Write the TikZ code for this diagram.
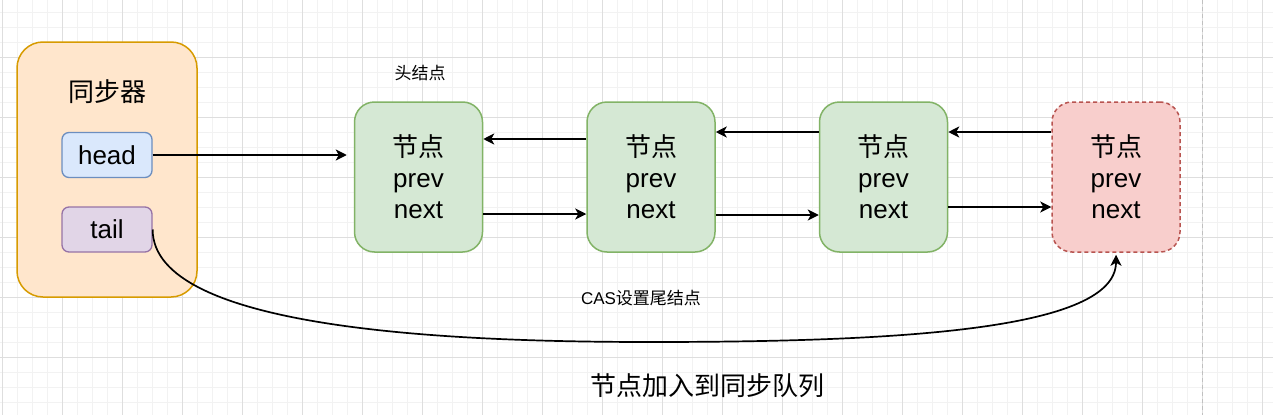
\documentclass[tikz,border=0pt]{standalone}
\usepackage{fontspec}
\setmainfont{Liberation Sans}
\newfontfamily\cjk{Noto Sans CJK SC}
\usetikzlibrary{arrows.meta}
\definecolor{gridminor}{HTML}{F2F2F2}
\definecolor{gridmajor}{HTML}{DEDEDE}
\definecolor{pagebrk}{HTML}{C0C0C0}
\definecolor{syncfill}{HTML}{FFE6CC}
\definecolor{syncdraw}{HTML}{D79B00}
\definecolor{headfill}{HTML}{DAE8FC}
\definecolor{headdraw}{HTML}{6C8EBF}
\definecolor{tailfill}{HTML}{E1D5E7}
\definecolor{taildraw}{HTML}{9673A6}
\definecolor{nodefill}{HTML}{D5E8D4}
\definecolor{nodedraw}{HTML}{82B366}
\definecolor{newfill}{HTML}{F8CECC}
\definecolor{newdraw}{HTML}{B85450}
\tikzset{
  big/.style={font=\fontsize{26}{31}\selectfont},
  small/.style={font=\fontsize{17}{20}\selectfont},
  syncbox/.style={draw=syncdraw, fill=syncfill, line width=1.5pt, rounded corners=26pt,
    minimum width=180pt, minimum height=255pt, inner sep=0pt},
  fieldbox/.style={line width=1.3pt, rounded corners=7pt, minimum width=90pt,
    minimum height=45pt, inner sep=0pt, big},
  qnode/.style={draw=nodedraw, fill=nodefill, line width=1.5pt, rounded corners=20pt,
    minimum width=128pt, minimum height=150pt, inner sep=0pt, align=center, big},
  newnode/.style={qnode, draw=newdraw, fill=newfill, dash pattern=on 4pt off 3pt},
  link/.style={line width=1.7pt, -{Stealth[length=11pt,width=11pt,inset=3pt]}},
}
\begin{document}
\begin{tikzpicture}[x=1pt,y=-1pt]
\useasboundingbox (0,0) rectangle (1273,415);
\fill[white] (0,0) rectangle (1273,415);
% grid
\foreach \gx in {2,17,...,1272} \draw[gridminor, line width=0.8pt] (\gx,0) -- (\gx,415);
\foreach \gy in {12,27,...,412} \draw[gridminor, line width=0.8pt] (0,\gy) -- (1273,\gy);
\foreach \gx in {2,62,...,1262} \draw[gridmajor, line width=0.8pt] (\gx,0) -- (\gx,415);
\foreach \gy in {57,117,...,357} \draw[gridmajor, line width=0.8pt] (0,\gy) -- (1273,\gy);
\draw[pagebrk, line width=1pt, dash pattern=on 4pt off 3pt] (1202,0) -- (1202,415);

% synchronizer
\node[syncbox] (sync) at (107,169.5) {};
\node[big] (synctitle) at (107,92) {\cjk 同步器};
\node[fieldbox, draw=headdraw, fill=headfill] (head) at (107,155) {head};
\node[fieldbox, draw=taildraw, fill=tailfill] (tail) at (107,229.5) {tail};

% queue nodes
\node[qnode] (n1) at (418.5,177) {{\cjk 节点}\\prev\\next};
\node[qnode] (n2) at (651,177) {{\cjk 节点}\\prev\\next};
\node[qnode] (n3) at (883.5,177) {{\cjk 节点}\\prev\\next};
\node[newnode] (n4) at (1116,177) {{\cjk 节点}\\prev\\next};

\node[small] (headlabel) at (420,73) {\cjk 头结点};
\node[small] (caslabel) at (641,298) {CAS{\cjk 设置尾结点}};
\node[big] (caption) at (707,386) {\cjk 节点加入到同步队列};

% links
\draw[link, shorten >=7pt] (head.east) -- (head.east -| n1.west);
\draw[link] ([yshift=38pt]n2.west) -- ([yshift=38pt]n1.east);
\draw[link] ([yshift=-37pt]n1.east) -- ([yshift=-37pt]n2.west);
\draw[link] ([yshift=45pt]n3.west) -- ([yshift=45pt]n2.east);
\draw[link] ([yshift=-38pt]n2.east) -- ([yshift=-38pt]n3.west);
\draw[link] ([yshift=45pt]n4.west) -- ([yshift=45pt]n3.east);
\draw[link] ([yshift=-30pt]n3.east) -- ([yshift=-30pt]n4.west);
\draw[link] (tail.east) .. controls +(0,100) and (450,342) .. (650,342)
  .. controls (900,342) and (1116,330) .. ([yshift=-2pt]n4.south);
\end{tikzpicture}
\end{document}
